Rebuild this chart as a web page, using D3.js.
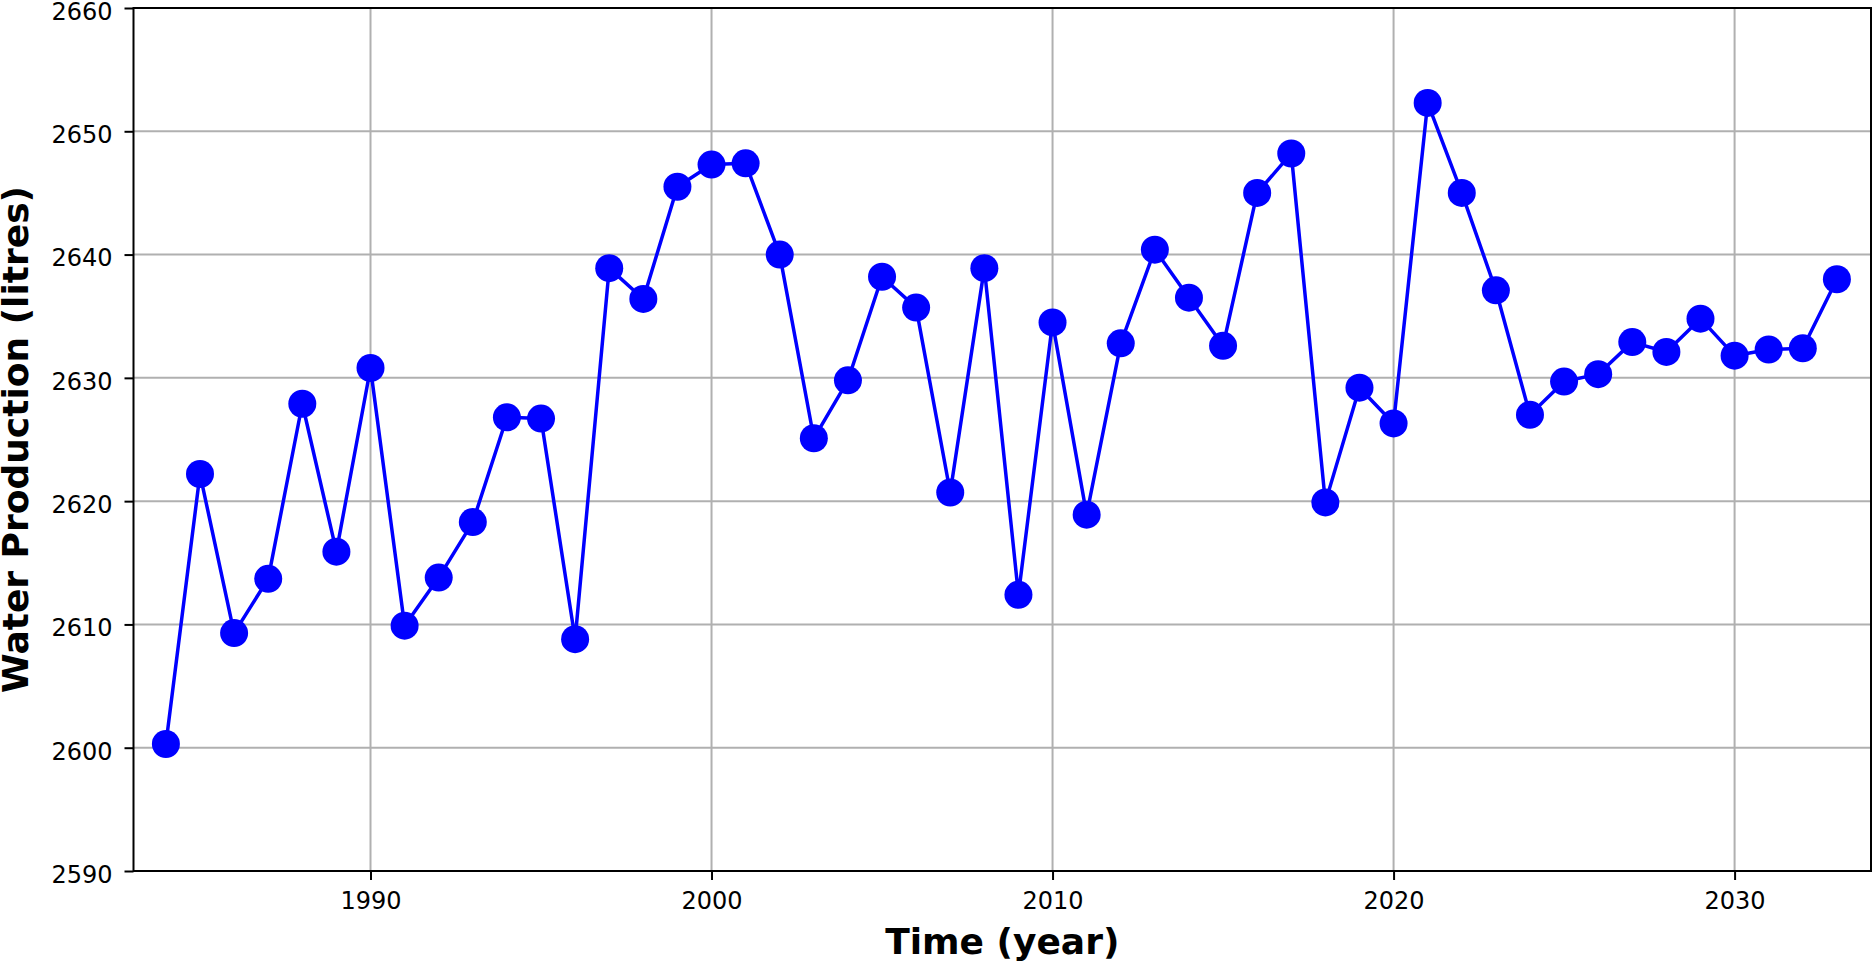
<!DOCTYPE html>
<html>
<head>
<meta charset="utf-8">
<script src="https://cdn.jsdelivr.net/npm/d3@7"></script>
<style>
  html, body { margin: 0; padding: 0; background: #fff; }
  svg { display: block; }
</style>
</head>
<body>
<svg id="chart" width="1874" height="962"></svg>
<script>
const years = [1984,1985,1986,1987,1988,1989,1990,1991,1992,1993,1994,1995,1996,1997,1998,1999,2000,2001,2002,2003,2004,2005,2006,2007,2008,2009,2010,2011,2012,2013,2014,2015,2016,2017,2018,2019,2020,2021,2022,2023,2024,2025,2026,2027,2028,2029,2030,2031,2032,2033];
const production = [2600.3,2622.2,2609.3,2613.7,2627.9,2615.9,2630.8,2609.9,2613.8,2618.3,2626.8,2626.7,2608.8,2638.9,2636.4,2645.5,2647.3,2647.4,2640.0,2625.1,2629.8,2638.2,2635.7,2620.7,2638.9,2612.4,2634.5,2618.9,2632.8,2640.4,2636.5,2632.6,2645.0,2648.2,2619.9,2629.2,2626.3,2652.3,2645.0,2637.1,2627.0,2629.7,2630.3,2632.9,2632.1,2634.8,2631.8,2632.3,2632.4,2638.0];
const xTicks = [1990,2000,2010,2020,2030];
const yTicks = [2590,2600,2610,2620,2630,2640,2650,2660];
const xLabel = "Time (year)";
const yLabel = "Water Production (litres)";

const mLeft = 133.5, mRight = 1871, mTop = 8, mBottom = 871;
const svg = d3.select("#chart");

const x = d3.scaleLinear().domain([1983.05, 2034.0]).range([mLeft, mRight]);
const y = d3.scaleLinear().domain([2590, 2660]).range([mBottom, mTop]);

// grid
const grid = svg.append("g");
grid.selectAll("line.gx").data(xTicks).join("line").attr("class", "gx")
  .attr("x1", d => x(d)).attr("x2", d => x(d))
  .attr("y1", mTop).attr("y2", mBottom)
  .attr("stroke", "#b0b0b0").attr("stroke-width", 2);
grid.selectAll("line.gy").data(yTicks).join("line").attr("class", "gy")
  .attr("x1", mLeft).attr("x2", mRight)
  .attr("y1", d => y(d)).attr("y2", d => y(d))
  .attr("stroke", "#b0b0b0").attr("stroke-width", 2);

// line + markers
svg.append("path").datum(years.map((yr, i) => [yr, production[i]]))
  .attr("fill", "none").attr("stroke", "#0000ff").attr("stroke-width", 3.5)
  .attr("stroke-linejoin", "round")
  .attr("d", d3.line().x(d => x(d[0])).y(d => y(d[1])));
svg.append("g").selectAll("circle").data(years).join("circle")
  .attr("cx", d => x(d)).attr("cy", (d, i) => y(production[i]))
  .attr("r", 14).attr("fill", "#0000ff");

// axes
const xAxis = d3.axisBottom(x).tickValues(xTicks).tickFormat(d3.format("d")).tickSize(9).tickPadding(11.5);
const yAxis = d3.axisLeft(y).tickValues(yTicks).tickFormat(d3.format("d")).tickSize(9).tickPadding(12);
const gx = svg.append("g").attr("transform", `translate(0,${mBottom})`).call(xAxis);
const gy = svg.append("g").attr("transform", `translate(${mLeft},0)`).call(yAxis);
[gx, gy].forEach(g => {
  g.select(".domain").remove();
  g.selectAll(".tick line").attr("stroke", "#000").attr("stroke-width", 2);
  g.selectAll(".tick text").attr("fill", "#000").style("font-size", "24px").style("font-family", "DejaVu Sans, sans-serif");
});
gy.selectAll(".tick text").attr("dy", "0.475em");

// frame
svg.append("rect").attr("x", mLeft).attr("y", mTop)
  .attr("width", mRight - mLeft).attr("height", mBottom - mTop)
  .attr("fill", "none").attr("stroke", "#000").attr("stroke-width", 2);

// labels
svg.append("text").attr("x", (mLeft + mRight) / 2).attr("y", 954)
  .attr("text-anchor", "middle").style("font-family", "DejaVu Sans, sans-serif")
  .style("font-weight", "bold").style("font-size", "36px").text(xLabel);
svg.append("text").attr("transform", `translate(28,${(mTop + mBottom) / 2}) rotate(-90)`)
  .attr("text-anchor", "middle").style("font-family", "DejaVu Sans, sans-serif")
  .style("font-weight", "bold").style("font-size", "36px").text(yLabel);
</script>
</body>
</html>
